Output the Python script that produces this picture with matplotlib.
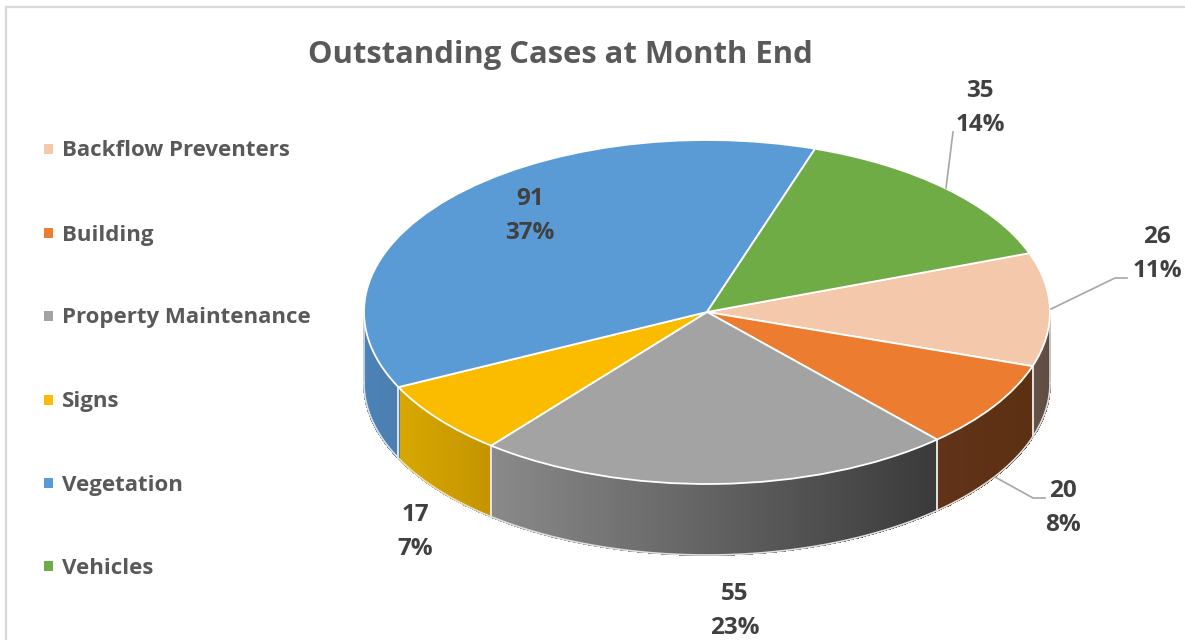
import matplotlib

matplotlib.use("Agg")
import matplotlib.pyplot as plt
import numpy as np
from matplotlib.collections import PolyCollection
from matplotlib.colors import to_rgb
from matplotlib.lines import Line2D
from matplotlib.patches import Rectangle

plt.rcParams["font.family"] = ["Open Sans", "DejaVu Sans"]

categories = [
    "Backflow Preventers",
    "Building",
    "Property Maintenance",
    "Signs",
    "Vegetation",
    "Vehicles",
]
values = [26, 20, 55, 17, 91, 35]
title = "Outstanding Cases at Month End"

top_colors = ["#F4C9AB", "#EC7C30", "#A3A3A3", "#FBBC00", "#5B9BD5", "#6FAC46"]
wall_left = ["#66544A", "#61331A", "#8A8A8A", "#D8A800", "#4C82B8", "#6FAC46"]
wall_right = ["#5E4C40", "#5C3012", "#3A3A3A", "#C49400", "#4C7FB0", "#6FAC46"]

W, H = 1185, 640
CX, CY, RX, RY = 707, 312, 343, 172
DEPTH = 71 / RY
START = 20

label_pos = [(1157, 252), (1063, 506), (735, 609), (415, 530), (530, 214), (980, 106)]
leaders = [
    [(1051, 309), (1115, 278), (1127, 278)],
    [(995, 477), (1033, 498), (1045, 498)],
    None,
    None,
    None,
    [(946, 188), (953, 132)],
]
legend_y = [149, 233, 316, 400, 483, 566]


def fx(x):
    return x / W


def fy(y):
    return 1 - y / H


def draw_walls(ax, angles):
    # only the part of each slice facing the viewer gets a wall
    for i in range(len(values)):
        a0, a1 = angles[i + 1], angles[i]
        for shift in (-360, 0, 360):
            lo = max(a0 + shift, -180)
            hi = min(a1 + shift, 0)
            if hi <= lo:
                continue
            t = np.radians(np.linspace(lo, hi, 160))
            x, y = np.cos(t), np.sin(t)
            polys = []
            colors = []
            x_span = max(x.max() - x.min(), 1e-6)
            c0, c1 = np.array(to_rgb(wall_left[i])), np.array(to_rgb(wall_right[i]))
            for j in range(len(t) - 1):
                polys.append(
                    [
                        (x[j], y[j]),
                        (x[j + 1], y[j + 1]),
                        (x[j + 1], y[j + 1] - DEPTH),
                        (x[j], y[j] - DEPTH),
                    ]
                )
                f = ((x[j] + x[j + 1]) / 2 - x.min()) / x_span
                colors.append(c0 + (c1 - c0) * f)
            ax.add_collection(
                PolyCollection(polys, facecolors=colors, edgecolors=colors, linewidths=0.8,
                               antialiaseds=False, zorder=1)
            )
            for end in (0, -1):
                ax.plot([x[end], x[end]], [y[end], y[end] - DEPTH], color="#E8E8E8", lw=1.1, zorder=2)

    t = np.radians(np.linspace(-180, 0, 300))
    ax.plot(np.cos(t), np.sin(t) - DEPTH, color="#E0E0E0", lw=1.2, zorder=2)


def main():
    fig = plt.figure(figsize=(W / 100, H / 100), dpi=100, facecolor="white")
    ax = fig.add_axes([0, 0, 1, 1])

    total = sum(values)
    angles = START - np.concatenate([[0], np.cumsum(values)]) / total * 360

    ax.pie(
        values,
        colors=top_colors,
        startangle=START,
        counterclock=False,
        radius=1,
        wedgeprops={"edgecolor": "white", "linewidth": 1.3, "zorder": 3},
    )
    ax.set_aspect("auto")
    ax.set_xlim(-CX / RX, (W - CX) / RX)
    ax.set_ylim((CY - H) / RY, CY / RY)
    ax.axis("off")

    draw_walls(ax, angles)

    # outer frame, only top and left show in the crop
    for pts in ([(6, 7), (W, 7)], [(6, 7), (6, H)]):
        fig.add_artist(
            Line2D([fx(p[0]) for p in pts], [fy(p[1]) for p in pts], color="#D9D9D9", lw=1.6)
        )

    fig.text(fx(560), fy(55), title, ha="center", va="center", fontsize=22.3,
             fontweight="bold", color="#595959")

    for name, color, y in zip(categories, top_colors, legend_y):
        fig.add_artist(
            Rectangle((fx(44), fy(y + 5)), 9 / W, 10 / H, transform=fig.transFigure,
                      facecolor=color, edgecolor="none")
        )
        fig.text(fx(62), fy(y + 2), name, ha="left", va="center", fontsize=16,
                 fontweight="bold", color="#595959")

    for v, (x, y), line in zip(values, label_pos, leaders):
        pct = round(v / total * 100)
        fig.text(fx(x), fy(y - 15), str(v), ha="center", va="center", fontsize=17.5,
                 fontweight="bold", color="#404040")
        fig.text(fx(x), fy(y + 19), f"{pct}%", ha="center", va="center", fontsize=17.5,
                 fontweight="bold", color="#404040")
        if line:
            fig.add_artist(
                Line2D([fx(p[0]) for p in line], [fy(p[1]) for p in line], color="#A6A6A6", lw=1.2)
            )

    fig.savefig("out.png", dpi=100)
    plt.close(fig)


if __name__ == "__main__":
    main()
